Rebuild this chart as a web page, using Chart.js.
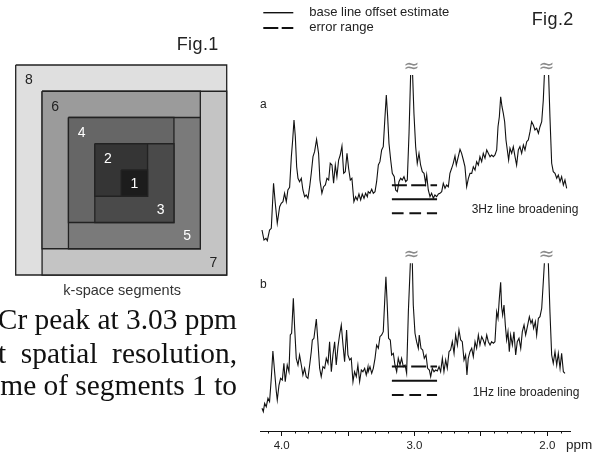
<!DOCTYPE html>
<html><head><meta charset="utf-8">
<script src="https://cdn.jsdelivr.net/npm/chart.js@4.4.1/dist/chart.umd.min.js"></script>
<style>
html,body{margin:0;padding:0;background:#fff;width:604px;height:454px;overflow:hidden;position:relative;font-family:"Liberation Sans",Arial,sans-serif;color:#111}
canvas{position:absolute;left:0;top:0}
.t{position:absolute;white-space:nowrap;line-height:1}
.serif{position:absolute;white-space:nowrap;line-height:1;font-family:"Liberation Serif","Times New Roman",serif;font-size:29.4px;color:#111;right:367px;text-align:right}
</style></head>
<body>
<canvas id="fig1" width="250" height="300"></canvas>
<canvas id="fig2" width="604" height="454"></canvas>

<div class="t" style="left:176.7px;top:34.8px;font-size:18px;letter-spacing:0.4px;color:#222">Fig.1</div>
<div class="t" style="left:63.3px;top:282.7px;font-size:14.5px;color:#333">k-space segments</div>
<div class="t" style="left:531.7px;top:9.8px;font-size:18px;letter-spacing:0.4px;color:#222">Fig.2</div>
<div class="t" style="left:309.3px;top:5px;font-size:13px;color:#222">base line offset estimate</div>
<div class="t" style="left:309.3px;top:19.7px;font-size:13px;color:#222">error range</div>
<div class="t" style="left:260px;top:98.3px;font-size:12px;color:#222">a</div>
<div class="t" style="left:260px;top:278.1px;font-size:12px;color:#222">b</div>
<div class="t" style="left:471.7px;top:203.1px;font-size:12px;color:#222">3Hz line broadening</div>
<div class="t" style="left:472.7px;top:385.5px;font-size:12px;color:#222">1Hz line broadening</div>
<div class="t" style="left:566px;top:437.5px;font-size:13.5px;color:#222">ppm</div>
<div class="serif" style="top:305.4px">Cr peak at 3.03 ppm</div>
<div class="serif" style="top:338.7px;word-spacing:7.2px">at spatial resolution,</div>
<div class="serif" style="top:371.4px">time of segments 1 to</div>

<script>
// ---------- Fig.2 data: chemical shift (ppm) and intensity (a.u., relative to baseline estimate) ----------
const ppmA = [4.148,4.133,4.118,4.108,4.091,4.078,4.061,4.048,4.033,4.015,4.003,3.990,3.978,3.965,3.953,3.940,3.927,3.917,3.907,3.897,3.887,3.877,3.865,3.852,3.840,3.827,3.815,3.802,3.789,3.777,3.764,3.752,3.737,3.722,3.712,3.697,3.684,3.671,3.659,3.646,3.634,3.621,3.609,3.596,3.584,3.571,3.559,3.546,3.533,3.521,3.508,3.496,3.483,3.471,3.456,3.443,3.431,3.418,3.405,3.393,3.380,3.368,3.355,
3.348,3.335,3.322,3.310,3.297,3.285,3.272,3.260,3.247,3.235,3.222,3.212,3.202,3.192,3.179,3.167,3.152,3.142,3.129,3.117,3.104,3.092,3.079,3.066,3.054,3.041,3.029,3.022,3.014,3.004,2.991,2.979,2.966,2.954,2.941,2.928,2.916,2.908,2.896,2.883,2.871,2.858,2.846,2.833,2.820,2.808,2.795,2.783,2.770,2.758,2.745,2.733,2.720,2.708,2.695,2.685,2.670,2.657,2.645,2.632,2.620,2.607,2.594,2.582,
2.569,2.557,2.544,2.532,2.519,2.507,2.494,2.482,2.469,2.456,2.444,2.431,2.419,2.406,2.394,2.381,2.371,2.361,2.351,2.341,2.331,2.321,2.311,2.301,2.291,2.281,2.268,2.256,2.243,2.231,2.218,2.206,2.193,2.180,2.168,2.155,2.143,2.130,2.118,2.105,2.093,2.080,2.067,2.055,2.042,2.030,2.022,2.006,1.990,1.980,1.967,1.955,1.942,1.929,1.917,1.904,1.892,1.879,1.867,1.854];
const intA = [-30.7,-40.7,-39.0,-41.4,-30.7,-29.0,16.0,-4.0,-24.0,-7.4,-4.0,-2.4,6.0,-2.4,9.3,12.0,42.6,59.3,79.3,62.6,32.6,21.0,17.6,21.0,9.3,2.6,4.3,1.0,12.6,26.0,42.6,47.6,60.0,46.0,19.3,6.0,12.6,14.3,21.0,19.3,36.0,34.3,16.0,34.3,22.6,39.3,44.3,53.3,26.0,27.6,46.0,31.0,19.3,21.0,-2.4,2.6,-0.7,5.3,-0.7,5.3,1.0,6.0,2.6,
7.6,6.0,10.0,6.0,7.6,17.6,34.3,37.6,49.3,52.6,82.6,104.3,82.6,56.0,39.3,26.0,22.6,9.3,7.6,17.6,21.0,19.3,22.6,17.6,19.3,66.0,124.3,null,124.3,86.0,52.6,36.0,46.0,34.3,27.6,26.0,16.0,24.3,9.3,2.6,6.0,1.0,4.3,2.6,5.3,6.0,7.6,16.0,11.0,14.3,12.6,26.0,31.0,36.0,43.3,34.3,42.6,50.0,46.0,39.3,32.6,12.6,21.0,26.0,
25.9,32.6,29.3,37.6,34.3,42.6,37.6,46.0,41.0,49.3,46.0,42.6,44.3,42.6,44.3,49.3,72.6,82.6,102.6,92.6,86.0,77.6,59.3,49.3,39.3,51.0,46.0,52.6,42.6,34.3,49.3,52.6,46.0,54.3,49.3,57.6,59.3,67.6,77.6,74.3,69.3,71.0,66.0,72.6,77.6,99.3,124.3,null,124.3,82.6,36.0,27.6,26.0,21.0,24.3,17.6,22.6,14.3,19.3,11.0];

const ppmB = [4.148,4.138,4.128,4.116,4.103,4.091,4.078,4.066,4.053,4.040,4.033,4.020,4.008,3.995,3.983,3.973,3.958,3.945,3.935,3.925,3.912,3.902,3.890,3.877,3.865,3.852,3.840,3.827,3.815,3.802,3.789,3.777,3.769,3.757,3.739,3.727,3.714,3.702,3.689,3.676,3.664,3.651,3.639,3.626,3.614,3.601,3.589,3.576,3.564,3.551,3.538,3.526,3.511,3.501,3.488,3.476,3.463,3.451,3.438,3.426,3.413,3.400,3.388,3.375,3.363,3.350,
3.348,3.335,3.322,3.310,3.297,3.285,3.272,3.260,3.247,3.235,3.222,3.215,3.205,3.195,3.182,3.172,3.159,3.147,3.134,3.122,3.109,3.097,3.084,3.071,3.059,3.046,3.031,3.023,3.016,3.009,2.996,2.984,2.971,2.964,2.951,2.938,2.926,2.913,2.901,2.888,2.878,2.866,2.853,2.841,2.828,2.815,2.803,2.790,2.778,2.765,2.753,2.740,2.728,2.715,2.702,2.690,2.677,2.665,2.652,2.640,2.627,2.615,2.605,2.595,2.582,
2.569,2.557,2.544,2.532,2.519,2.507,2.494,2.482,2.469,2.456,2.444,2.431,2.419,2.406,2.394,2.381,2.371,2.361,2.351,2.344,2.336,2.326,2.316,2.306,2.296,2.286,2.276,2.263,2.251,2.238,2.226,2.213,2.200,2.188,2.175,2.163,2.150,2.135,2.123,2.113,2.103,2.090,2.080,2.067,2.055,2.042,2.030,2.022,2.007,1.992,1.980,1.967,1.955,1.942,1.929,1.917,1.904,1.892,1.879,1.867];
const intB = [-27.6,-31.0,-22.6,-26.0,-17.6,-21.0,2.4,29.7,9.0,-11.0,-19.3,-4.3,2.4,0.7,17.4,-1.0,15.7,9.0,45.7,47.4,82.4,52.4,22.4,15.7,25.7,15.7,5.7,12.4,4.0,2.4,15.7,29.0,40.7,42.4,61.7,39.0,12.4,4.0,14.0,12.4,22.4,17.4,39.0,9.0,25.7,39.0,15.7,34.0,45.7,55.7,35.7,19.0,50.7,25.7,20.7,22.4,-1.0,9.0,4.0,15.7,-1.0,10.7,9.0,12.4,5.7,14.0,
9.0,14.0,7.4,12.4,22.4,35.7,32.4,44.0,45.7,49.0,85.7,104.0,75.7,42.4,40.7,25.7,27.4,15.7,9.0,22.4,15.7,22.4,14.0,15.7,7.4,69.0,117.4,null,117.4,75.7,47.4,39.0,32.4,45.7,32.4,30.7,22.4,25.7,12.4,10.7,4.0,12.4,9.0,10.7,9.7,14.0,9.0,22.4,9.0,20.7,12.4,29.0,30.7,39.0,27.4,45.7,35.7,50.7,40.7,39.0,20.7,25.7,5.7,22.4,29.0,
32.4,24.0,39.0,32.4,45.7,35.7,44.0,40.7,35.7,45.7,39.0,35.7,39.0,37.4,39.0,69.0,62.4,82.4,98.4,74.0,65.7,75.7,55.7,40.7,49.0,29.0,45.7,35.7,49.0,25.7,39.0,42.4,32.4,49.0,55.7,45.7,54.0,64.0,57.4,60.7,52.4,59.0,45.7,62.4,64.0,72.4,99.0,117.4,null,117.4,69.0,25.7,17.4,29.0,15.7,27.4,12.4,27.4,9.0,7.4];

// base line offset estimate range (ppm) and error (a.u.)
const baseRange = [3.17, 2.83];
const errA = 14.0;
const errB = 14.2;

// axis ticks (ppm)
const majorTicks = [4.0, 3.5, 3.0, 2.5, 2.0];
const minorTicks = [4.1, 3.9, 3.8, 3.7, 3.6, 3.4, 3.3, 3.2, 3.1, 2.9, 2.8, 2.7, 2.6, 2.4, 2.3, 2.2, 2.1, 1.9];

// ---------- Fig.1 data: k-space segment extents (cell units) ----------
const segNumber = [1, 2, 3, 4, 5, 6, 7, 8];
const segX0 = [4, 3, 3, 2, 2, 1, 1, 0];
const segX1 = [5, 5, 6, 6, 7, 7, 8, 8];
const segY0 = [4, 3, 3, 2, 2, 1, 1, 0];
const segY1 = [5, 5, 6, 6, 7, 7, 8, 8];

// ---------- styling ----------
const SANS = '"Liberation Sans", Arial, sans-serif';
const segShades = ['#1c1c1c', '#353535', '#4a4a4a', '#666666', '#7a7a7a', '#9b9b9b', '#c4c4c4', '#dfdfdf'];
const OFFSET_A = 231.7, OFFSET_B = 50.3;
const X_AXIS_HEIGHT = 23;

function toXY(px, iy, off) {
  return px.map((x, i) => ({ x: x, y: iy[i] === null ? null : iy[i] + off }));
}
function flat(y) { return baseRange.map(x => ({ x: x, y: y })); }

const lineBase = { pointRadius: 0, tension: 0, spanGaps: false, fill: false, borderColor: '#111' };

const fig2Plugin = {
  id: 'fig2extras',
  afterDraw(chart) {
    const ctx = chart.ctx, xs = chart.scales.x, ys = chart.scales.y;
    const y0 = chart.chartArea.bottom;
    ctx.save();
    // minor ticks
    ctx.strokeStyle = '#111'; ctx.lineWidth = 1;
    minorTicks.forEach(v => {
      const px = Math.round(xs.getPixelForValue(v)) + 0.5;
      ctx.beginPath(); ctx.moveTo(px, y0); ctx.lineTo(px, y0 + 2.5); ctx.stroke();
    });
    // break marks above clipped peaks
    ctx.fillStyle = '#8a8a8a';
    ctx.font = '19px "DejaVu Sans"';
    ctx.textAlign = 'center'; ctx.textBaseline = 'middle';
    [0, 1].forEach(di => {
      const d = chart.data.datasets[di].data;
      d.forEach((p, i) => {
        if (p.y === null && i > 0) {
          const px = xs.getPixelForValue(p.x);
          const py = ys.getPixelForValue(d[i - 1].y);
          ctx.fillText('\u2248', px, py - 8);
        }
      });
    });
    // legend samples
    ctx.strokeStyle = '#111';
    ctx.lineWidth = 1.4;
    ctx.beginPath(); ctx.moveTo(263.3, 12.7); ctx.lineTo(293.3, 12.7); ctx.stroke();
    ctx.lineWidth = 2;
    ctx.setLineDash([15, 3.4]);
    ctx.beginPath(); ctx.moveTo(263.3, 28); ctx.lineTo(293.3, 28); ctx.stroke();
    ctx.restore();
  }
};

new Chart(document.getElementById('fig2'), {
  type: 'line',
  data: {
    datasets: [
      Object.assign({ data: toXY(ppmA, intA, OFFSET_A), borderWidth: 1.1 }, lineBase),
      Object.assign({ data: toXY(ppmB, intB, OFFSET_B), borderWidth: 1.1 }, lineBase),
      Object.assign({ data: flat(OFFSET_A), borderWidth: 2 }, lineBase),
      Object.assign({ data: flat(OFFSET_A + errA), borderWidth: 2, borderDash: [15, 4.3] }, lineBase),
      Object.assign({ data: flat(OFFSET_A - errA), borderWidth: 2, borderDash: [11.7, 5.8] }, lineBase),
      Object.assign({ data: flat(OFFSET_B), borderWidth: 2 }, lineBase),
      Object.assign({ data: flat(OFFSET_B + errB), borderWidth: 2, borderDash: [15, 4.3] }, lineBase),
      Object.assign({ data: flat(OFFSET_B - errB), borderWidth: 2, borderDash: [11.7, 5.8] }, lineBase)
    ]
  },
  options: {
    responsive: false, animation: false, devicePixelRatio: 1, events: [],
    layout: { padding: { left: 260, right: 34, top: 50, bottom: 0 } },
    plugins: { legend: { display: false }, tooltip: { enabled: false } },
    scales: {
      x: {
        type: 'linear', reverse: true, min: 1.829, max: 4.163,
        afterBuildTicks: s => { s.ticks = majorTicks.map(v => ({ value: v })); },
        afterFit: s => { s.height = X_AXIS_HEIGHT; },
        ticks: {
          autoSkip: false, maxRotation: 0, padding: 3, color: '#222',
          font: { family: SANS, size: 11.5 },
          callback: v => Number.isInteger(v) ? v.toFixed(1) : ''
        },
        grid: { drawOnChartArea: false, tickLength: 5, color: '#111', tickColor: '#111', tickWidth: 1 },
        border: { display: true, color: '#111', width: 1 }
      },
      y: { display: false, min: 0, max: 381 }
    }
  },
  plugins: [fig2Plugin]
});

// ---------- Fig.1 ----------
const fig1Labels = {
  id: 'segLabels',
  afterDatasetsDraw(chart) {
    const ctx = chart.ctx, xs = chart.scales.x, ys = chart.scales.y;
    ctx.save();
    ctx.font = '14px ' + SANS;
    ctx.textAlign = 'center'; ctx.textBaseline = 'middle';
    segNumber.forEach((n, k) => {
      let cx, cy;
      if (n === 1) { cx = (segX0[k] + segX1[k]) / 2; cy = (segY0[k] + segY1[k]) / 2; }
      else if (n % 2 === 0) { cx = segX0[k] + 0.5; cy = segY0[k] + 0.55; }
      else { cx = segX1[k] - 0.5; cy = segY1[k] - 0.5; }
      ctx.fillStyle = n >= 6 ? '#222' : '#ffffff';
      ctx.fillText(String(n), xs.getPixelForValue(cx), ys.getPixelForValue(cy) + 1);
    });
    ctx.restore();
  }
};

new Chart(document.getElementById('fig1'), {
  type: 'line',
  data: {
    datasets: segNumber.map((n, k) => ({
      data: [
        { x: segX0[k], y: segY0[k] }, { x: segX1[k], y: segY0[k] },
        { x: segX1[k], y: segY1[k] }, { x: segX0[k], y: segY1[k] },
        { x: segX0[k], y: segY0[k] }
      ],
      fill: 'shape', backgroundColor: segShades[k], borderColor: '#222', borderWidth: 1.3,
      pointRadius: 0, tension: 0, clip: false
    }))
  },
  options: {
    responsive: false, animation: false, devicePixelRatio: 1, events: [],
    layout: { padding: { left: 15.7, right: 23.3, top: 65, bottom: 25 } },
    plugins: { legend: { display: false }, tooltip: { enabled: false } },
    scales: {
      x: { type: 'linear', display: false, min: 0, max: 8 },
      y: { type: 'linear', display: false, min: 0, max: 8, reverse: true }
    }
  },
  plugins: [fig1Labels]
});
</script>
</body></html>
